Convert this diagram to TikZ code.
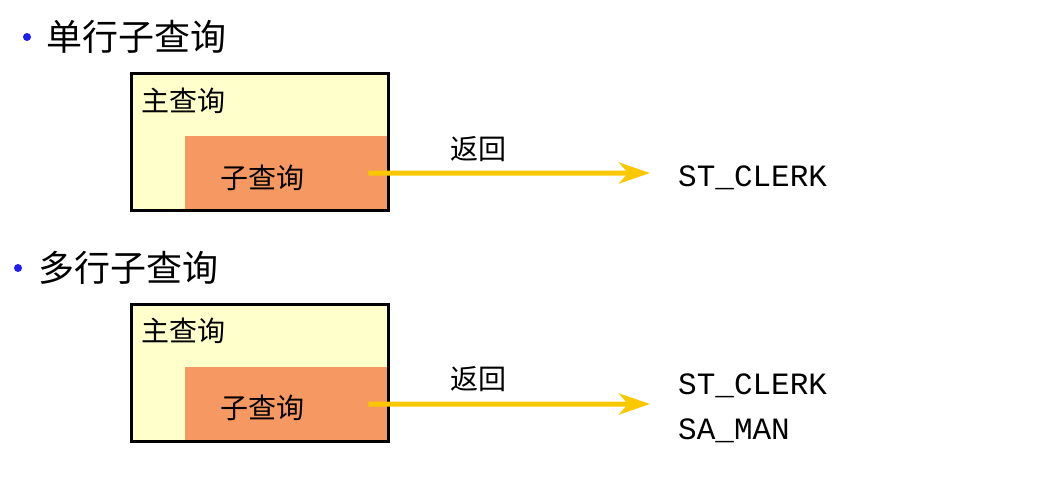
\documentclass[tikz,border=0pt]{standalone}
\usepackage{fontspec}
\usepackage{tikz}
\usetikzlibrary{calc,arrows.meta,positioning}
\newfontfamily\cjk{Noto Sans CJK SC}
\newfontfamily\codefont{Liberation Mono}

\definecolor{mainfill}{RGB}{255,255,204}
\definecolor{subfill}{RGB}{246,152,98}
\definecolor{arrowyel}{RGB}{250,200,0}
\definecolor{dotblue}{RGB}{30,30,240}

\tikzset{
  bulletdot/.style={circle,fill=dotblue,inner sep=0pt,minimum size=8pt},
  headline/.style={anchor=west,inner sep=0pt,font=\cjk\fontsize{36}{40}\selectfont},
  mainbox/.style={anchor=north west,inner sep=0pt,minimum width=257pt,minimum height=137pt},
  subbox/.style={anchor=south east,inner sep=0pt,fill=subfill,minimum width=203pt,minimum height=74pt},
  boxlabel/.style={inner sep=0pt,font=\cjk\fontsize{28}{32}\selectfont},
  result/.style={anchor=west,inner sep=0pt,font=\codefont\fontsize{31}{34}\selectfont},
  returns/.style={-{Stealth[length=31pt,width=21pt,inset=9pt]},line width=5pt,arrowyel}
}

\begin{document}
\begin{tikzpicture}[x=1pt,y=-1pt]
    \useasboundingbox (0,0) rectangle (1051,479);

    % Single-row subquery
    \node[bulletdot] (dot1) at (27,37) {};
    \node[headline] (head1) at (46,37) {单行子查询};
    \node[mainbox,fill=mainfill] (main1) at (131,73) {};
    \node[subbox] (sub1) at (main1.south east) {};
    \draw[line width=3pt] (main1.north west) rectangle (main1.south east);
    \node[boxlabel,anchor=west] (mainlbl1) at (141,101) {主查询};
    \node[boxlabel] (sublbl1) at (262,178) {子查询};
    \node[result] (res1) at (678,178) {ST\_CLERK};
    \coordinate (from1) at ($(sub1.east)+(-20,0)$);
    \coordinate (to1) at ($(res1.west)+(-28,-5)$);
    \draw[returns] (from1) -- (to1);
    \node[boxlabel] (ret1) at (478,149) {返回};

    % Multiple-row subquery
    \node[bulletdot] (dot2) at (18,268) {};
    \node[headline] (head2) at (38,268) {多行子查询};
    \node[mainbox,fill=mainfill] (main2) at (131,304) {};
    \node[subbox] (sub2) at (main2.south east) {};
    \draw[line width=3pt] (main2.north west) rectangle (main2.south east);
    \node[boxlabel,anchor=west] (mainlbl2) at (141,331) {主查询};
    \node[boxlabel] (sublbl2) at (262,408) {子查询};
    \node[result] (res2a) at (678,386) {ST\_CLERK};
    \node[result] (res2b) at (678,431) {SA\_MAN};
    \coordinate (from2) at ($(sub2.east)+(-20,0)$);
    \coordinate (to2) at ($(res2a.west)+(-28,18)$);
    \draw[returns] (from2) -- (to2);
    \node[boxlabel] (ret2) at (478,379) {返回};
\end{tikzpicture}
\end{document}
